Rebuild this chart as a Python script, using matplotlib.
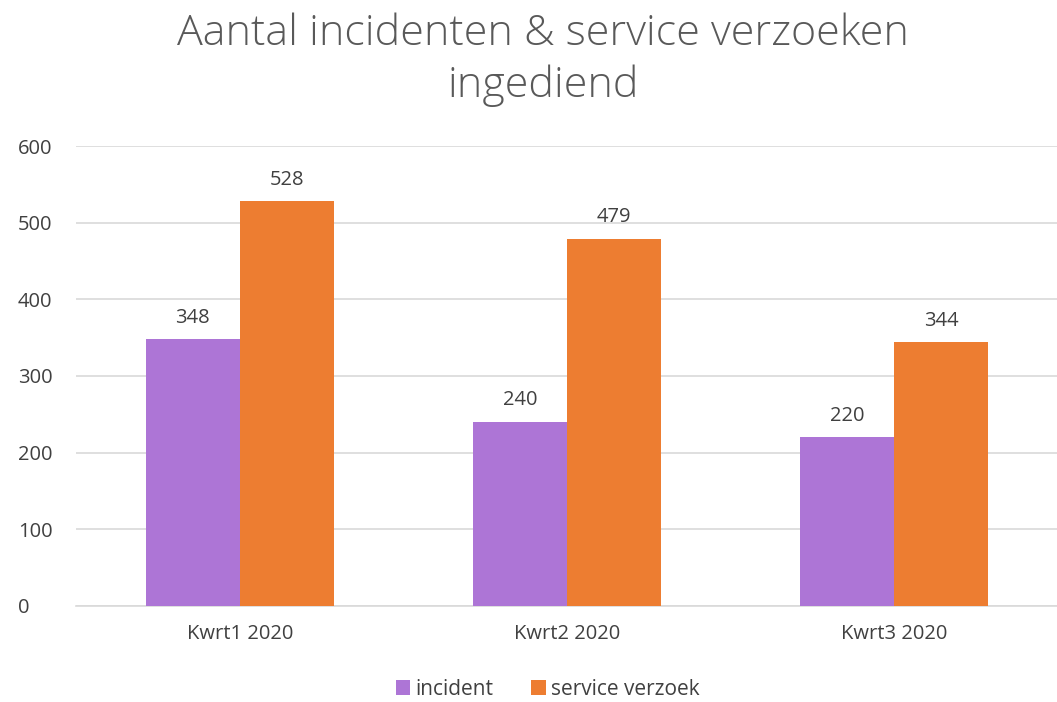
import numpy as np
import matplotlib
matplotlib.use("Agg")
import matplotlib.pyplot as plt

# data
categories = ["Kwrt1 2020", "Kwrt2 2020", "Kwrt3 2020"]
incident = [348, 240, 220]
service = [528, 479, 344]
yticks = [0, 100, 200, 300, 400, 500, 600]

plt.rcParams["font.family"] = ["Open Sans", "DejaVu Sans"]
text_col = "#404040"

fig = plt.figure(figsize=(10.57, 7.02), dpi=100)
ax = fig.add_axes([0.072, 0.137, 0.929, 0.655])

x = np.arange(len(categories))
w = 0.287
b1 = ax.bar(x - w / 2, incident, w, color="#AD75D6", label="incident", zorder=3)
b2 = ax.bar(x + w / 2, service, w, color="#ED7D31", label="service verzoek", zorder=3)

for bars in (b1, b2):
    for rect in bars:
        h = rect.get_height()
        ax.text(rect.get_x() + rect.get_width() / 2, h + 15, f"{int(h)}",
                ha="center", va="bottom", fontsize=14.5, color=text_col)

ax.set_xlim(-0.5, 2.5)
ax.set_ylim(0, 600)
ax.set_yticks(yticks)
ax.set_xticks(x)
ax.set_xticklabels(categories)
ax.tick_params(axis="both", length=0, labelsize=14.5, colors=text_col)
ax.tick_params(axis="y", pad=42)
ax.tick_params(axis="x", pad=13)
ax.grid(axis="y", color="#D9D9D9", linewidth=1.2, zorder=0)
for s in ["top", "right", "left"]:
    ax.spines[s].set_visible(False)
ax.spines["bottom"].set_color("#D9D9D9")
ax.spines["bottom"].set_linewidth(1.2)
for lab in ax.get_yticklabels():
    lab.set_horizontalalignment("left")

fig.suptitle("Aantal incidenten & service verzoeken\ningediend", x=0.514, y=0.982,
             fontsize=31, color="#595959", linespacing=1.3, fontweight="light")

fig.legend(loc="center", bbox_to_anchor=(0.518, 0.018), ncol=2, frameon=False,
           fontsize=15, handlelength=0.7, handleheight=0.7, handletextpad=0.25,
           columnspacing=1.8, labelcolor=text_col)

fig.savefig("out.png", dpi=100)
